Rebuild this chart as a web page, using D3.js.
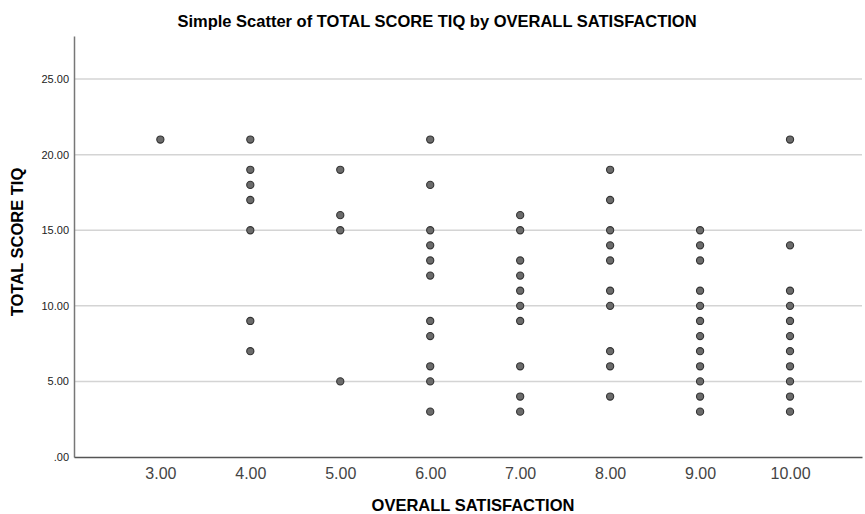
<!DOCTYPE html>
<html>
<head>
<meta charset="utf-8">
<script src="https://d3js.org/d3.v7.min.js"></script>
<style>
  body { margin: 0; background: #fff; }
  text { font-family: Arial, "Liberation Sans", sans-serif; }
</style>
</head>
<body>
<div id="chart"></div>
<script>
  // satisfaction levels and the TIQ scores seen at each level
  var satisfaction = [3, 4, 5, 6, 7, 8, 9, 10];
  var scores3 = [21];
  var scores4 = [21, 19, 18, 17, 15, 9, 7];
  var scores5 = [19, 16, 15, 5];
  var scores6 = [21, 18, 15, 14, 13, 12, 9, 8, 6, 5, 3];
  var scores7 = [16, 15, 13, 12, 11, 10, 9, 6, 4, 3];
  var scores8 = [19, 17, 15, 14, 13, 11, 10, 7, 6, 4];
  var scores9 = [15, 14, 13, 11, 10, 9, 8, 7, 6, 5, 4, 3];
  var scores10 = [21, 14, 11, 10, 9, 8, 7, 6, 5, 4, 3];
  var yTicks = [0, 5, 10, 15, 20, 25];

  var byLevel = [scores3, scores4, scores5, scores6, scores7, scores8, scores9, scores10];
  var data = [];
  satisfaction.forEach(function(s, i) {
    byLevel[i].forEach(function(v) { data.push({sat: s, tiq: v}); });
  });

  var W = 865, H = 514;
  var margin = {top: 36, right: 3, bottom: 57, left: 74};
  var width = W - margin.left - margin.right,
      height = H - margin.top - margin.bottom;

  var svg = d3.select("#chart").append("svg")
      .attr("width", W).attr("height", H);

  var g = svg.append("g")
      .attr("transform", "translate(" + margin.left + "," + margin.top + ")");

  var x = d3.scaleLinear().domain([2.04, 10.8]).range([0, width]);
  var y = d3.scaleLinear().domain([0, 27.85]).range([height, 0]);

  // gridlines
  g.append("g").selectAll("line")
    .data(yTicks.filter(function(d) { return d > 0; }))
    .enter().append("line")
      .attr("x1", 0).attr("x2", width)
      .attr("y1", function(d) { return y(d); })
      .attr("y2", function(d) { return y(d); })
      .attr("stroke", "#d4d4d4")
      .attr("stroke-width", 1.5);

  // y axis
  var yAxis = g.append("g")
    .call(d3.axisLeft(y).tickValues(yTicks).tickSize(0).tickPadding(5)
      .tickFormat(function(d) { return d === 0 ? ".00" : d3.format(".2f")(d); }));
  yAxis.select(".domain").attr("stroke", "#777").attr("stroke-width", 1.5);
  yAxis.selectAll("text").attr("font-size", 11).attr("fill", "#222");

  // x axis
  var xAxis = g.append("g")
    .attr("transform", "translate(0," + height + ")")
    .call(d3.axisBottom(x).tickValues(satisfaction).tickSize(0).tickPadding(11)
      .tickFormat(d3.format(".2f")));
  xAxis.select(".domain").attr("stroke", "#555").attr("stroke-width", 1.5);
  xAxis.selectAll("text").attr("font-size", 16).attr("fill", "#444");

  // points
  g.append("g").selectAll("circle")
    .data(data)
    .enter().append("circle")
      .attr("cx", function(d) { return x(d.sat); })
      .attr("cy", function(d) { return y(d.tiq); })
      .attr("r", 3.6)
      .attr("fill", "#6b6b6b")
      .attr("stroke", "#333")
      .attr("stroke-width", 1.1);

  // titles
  svg.append("text")
    .attr("x", 437).attr("y", 27)
    .attr("text-anchor", "middle")
    .attr("font-size", 16.5).attr("font-weight", "bold")
    .text("Simple Scatter of TOTAL SCORE TIQ by OVERALL SATISFACTION");

  svg.append("text")
    .attr("x", 473).attr("y", 511)
    .attr("text-anchor", "middle")
    .attr("font-size", 16.5).attr("font-weight", "bold")
    .text("OVERALL SATISFACTION");

  svg.append("text")
    .attr("transform", "translate(23,242) rotate(-90)")
    .attr("text-anchor", "middle")
    .attr("font-size", 16.5).attr("font-weight", "bold")
    .text("TOTAL SCORE TIQ");
</script>
</body>
</html>
